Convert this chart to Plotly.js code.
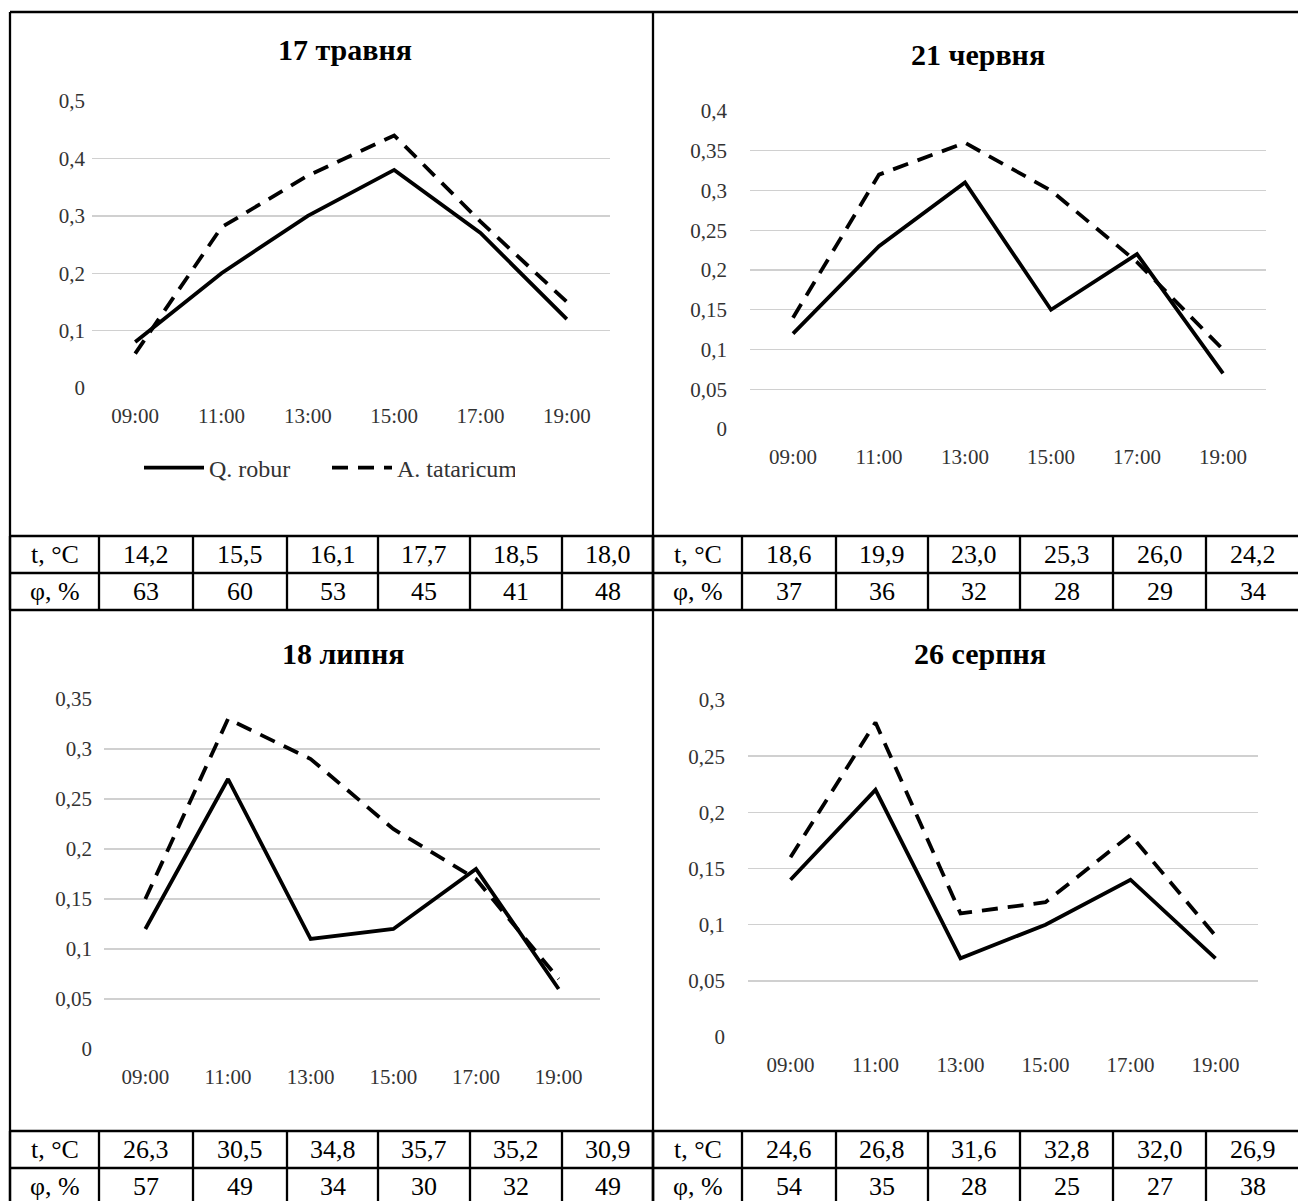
<!DOCTYPE html>
<html>
<head>
<meta charset="utf-8">
<script src="https://cdn.plot.ly/plotly-3.0.1.min.js"></script>
<style>
  html, body { margin: 0; padding: 0; background: #ffffff; }
  #chart { width: 1298px; height: 1201px; }
</style>
</head>
<body>
<div id="chart"></div>
<script>
// ---------- DATA ----------
const times = ['09:00', '11:00', '13:00', '15:00', '17:00', '19:00'];
const seriesNames = ['Q. robur', 'A. tataricum'];
const panelTitles = ['17 травня', '21 червня', '18 липня', '26 серпня'];

const qRoburMay = [0.08, 0.20, 0.30, 0.38, 0.27, 0.12];
const aTatarMay = [0.06, 0.28, 0.37, 0.44, 0.29, 0.15];
const qRoburJun = [0.12, 0.23, 0.31, 0.15, 0.22, 0.07];
const aTatarJun = [0.14, 0.32, 0.36, 0.30, 0.21, 0.10];
const qRoburJul = [0.12, 0.27, 0.11, 0.12, 0.18, 0.06];
const aTatarJul = [0.15, 0.33, 0.29, 0.22, 0.17, 0.07];
const qRoburAug = [0.14, 0.22, 0.07, 0.10, 0.14, 0.07];
const aTatarAug = [0.16, 0.28, 0.11, 0.12, 0.18, 0.09];

const tempMay = [14.2, 15.5, 16.1, 17.7, 18.5, 18.0];
const humMay  = [63, 60, 53, 45, 41, 48];
const tempJun = [18.6, 19.9, 23.0, 25.3, 26.0, 24.2];
const humJun  = [37, 36, 32, 28, 29, 34];
const tempJul = [26.3, 30.5, 34.8, 35.7, 35.2, 30.9];
const humJul  = [57, 49, 34, 30, 32, 49];
const tempAug = [24.6, 26.8, 31.6, 32.8, 32.0, 26.9];
const humAug  = [54, 35, 28, 25, 27, 38];

const rowLabels = ['t, °C', 'φ, %'];
const yMax = [0.5, 0.4, 0.35, 0.3];
const yStep = [0.1, 0.05, 0.05, 0.05];

// ---------- LAYOUT HELPERS ----------
const W = 1298, H = 1201;
const px = x => x / W;
const py = y => 1 - y / H;
const FONT = 'Liberation Serif, Times New Roman, serif';

// plot-area pixel boxes [left, right, topGrid(ymax), bottom(0)]
const boxes = [
  [92, 610, 101, 388],
  [750, 1266, 111, 429],
  [104, 600, 699, 1049],
  [748, 1258, 700, 1037]
];
const labelGap = [6, 22, 11, 22];
const titlePos = [[345, 50], [978, 55], [343, 653], [980, 653]];

const qSeries = [qRoburMay, qRoburJun, qRoburJul, qRoburAug];
const aSeries = [aTatarMay, aTatarJun, aTatarJul, aTatarAug];

const traces = [];
const layout = {
  width: W, height: H,
  margin: {l: 0, r: 0, t: 0, b: 0, pad: 0},
  paper_bgcolor: '#ffffff',
  plot_bgcolor: 'rgba(0,0,0,0)',
  separators: ', ',
  font: {family: FONT, color: '#000000'},
  showlegend: true,
  legend: {
    orientation: 'h',
    x: px(139), xanchor: 'left',
    y: py(468), yanchor: 'middle',
    font: {family: FONT, size: 24, color: '#333333'},
    itemwidth: 60,
    entrywidth: 113, entrywidthmode: 'pixels',
    bgcolor: 'rgba(0,0,0,0)'
  },
  shapes: [],
  annotations: []
};

for (let i = 0; i < 4; i++) {
  const b = boxes[i];
  const xa = i === 0 ? 'x' : 'x' + (i + 1);
  const ya = i === 0 ? 'y' : 'y' + (i + 1);
  const xk = i === 0 ? 'xaxis' : 'xaxis' + (i + 1);
  const yk = i === 0 ? 'yaxis' : 'yaxis' + (i + 1);

  traces.push({
    type: 'scatter', mode: 'lines', x: times, y: qSeries[i],
    xaxis: xa, yaxis: ya, name: seriesNames[0], showlegend: i === 0,
    line: {color: '#000000', width: 3.8, dash: 'solid'}, hoverinfo: 'skip'
  });
  traces.push({
    type: 'scatter', mode: 'lines', x: times, y: aSeries[i],
    xaxis: xa, yaxis: ya, name: seriesNames[1], showlegend: i === 0,
    line: {color: '#000000', width: 3.8, dash: '16px,10px'}, hoverinfo: 'skip'
  });

  layout[xk] = {
    domain: [px(b[0]), px(b[1])],
    anchor: ya,
    type: 'category',
    range: [-0.5, times.length - 0.5],
    showgrid: false, zeroline: false, showline: false, ticks: '',
    tickfont: {family: FONT, size: 21, color: '#333333'},
    ticklabelstandoff: 13,
    fixedrange: true
  };
  layout[yk] = {
    domain: [py(b[3]), py(b[2])],
    anchor: xa,
    range: [0, yMax[i]],
    dtick: yStep[i], tick0: 0,
    showgrid: true, gridcolor: '#d0d0d0', gridwidth: 1.4,
    zeroline: false, showline: false, ticks: '',
    tickfont: {family: FONT, size: 21, color: '#333333'},
    ticklabelstandoff: labelGap[i],
    fixedrange: true
  };

  layout.annotations.push({
    xref: 'paper', yref: 'paper', x: px(titlePos[i][0]), y: py(titlePos[i][1]),
    xanchor: 'center', yanchor: 'middle', showarrow: false,
    text: '<b>' + panelTitles[i] + '</b>',
    font: {family: FONT, size: 30, color: '#000000'}
  });
}

// ---------- FRAME + TABLES ----------
const LW = 2.3;
function hline(x0, x1, y) {
  layout.shapes.push({type: 'line', xref: 'paper', yref: 'paper',
    x0: px(x0), x1: px(x1), y0: py(y), y1: py(y), line: {color: '#000', width: LW}});
}
function vline(x, y0, y1) {
  layout.shapes.push({type: 'line', xref: 'paper', yref: 'paper',
    x0: px(x), x1: px(x), y0: py(y0), y1: py(y1), line: {color: '#000', width: LW}});
}
// outer frame and centre divider
hline(10, 1300, 12);
vline(10, 12, 1205);
vline(653, 12, 1205);

const colsLeft = [10, 99, 193, 287, 378, 470, 562, 653];
const colsRight = [653, 742, 836, 928, 1020, 1113, 1206, 1300];
const tables = [
  {cols: colsLeft,  rows: [536, 573, 610],   t: tempMay, h: humMay},
  {cols: colsRight, rows: [536, 573, 610],   t: tempJun, h: humJun},
  {cols: colsLeft,  rows: [1131, 1168, 1205], t: tempJul, h: humJul},
  {cols: colsRight, rows: [1131, 1168, 1205], t: tempAug, h: humAug}
];
const fmtT = v => v.toFixed(1).replace('.', ',');

tables.forEach(tb => {
  const c = tb.cols, r = tb.rows;
  r.forEach(y => hline(c[0], c[c.length - 1], y));
  c.forEach(x => vline(x, r[0], r[2]));
  const rowVals = [
    [rowLabels[0]].concat(tb.t.map(fmtT)),
    [rowLabels[1]].concat(tb.h.map(String))
  ];
  for (let ri = 0; ri < 2; ri++) {
    const yc = (r[ri] + r[ri + 1]) / 2;
    for (let ci = 0; ci < 7; ci++) {
      const xc = (c[ci] + c[ci + 1]) / 2;
      layout.annotations.push({
        xref: 'paper', yref: 'paper', x: px(xc), y: py(yc),
        xanchor: 'center', yanchor: 'middle', showarrow: false,
        text: rowVals[ri][ci],
        font: {family: FONT, size: 26, color: '#000000'}
      });
    }
  }
});

Plotly.newPlot('chart', traces, layout, {staticPlot: true, displayModeBar: false});
</script>
</body>
</html>
